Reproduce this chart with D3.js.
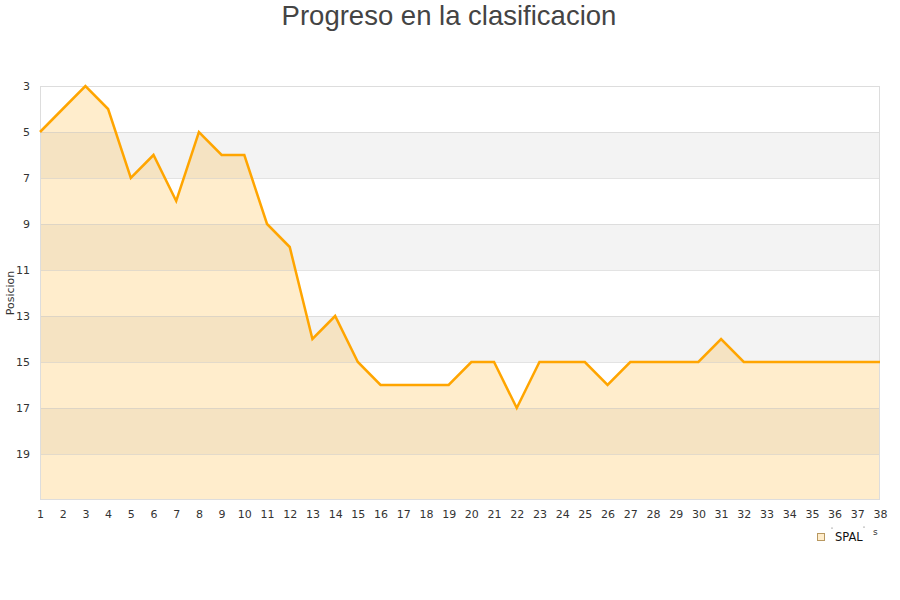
<!DOCTYPE html>
<html><head><meta charset="utf-8">
<script src="https://cdn.jsdelivr.net/npm/d3@7/dist/d3.min.js"></script>
<style>body{margin:0;background:#fff}svg{display:block}</style>
</head><body>
<svg id="c" width="900" height="600"></svg>
<script>
const title = "Progreso en la clasificacion";
const yLabel = "Posicion";
const seriesName = "SPAL";
const jornadas = d3.range(1, 39);
const posiciones = [5,4,3,4,7,6,8,5,6,6,9,10,14,13,15,16,16,16,16,15,15,17,15,15,15,16,15,15,15,15,14,15,15,15,15,15,15,15];
const yTicks = [3,5,7,9,11,13,15,17,19];
const bands = [[5,7],[9,11],[13,15],[17,19]];

const svg = d3.select("#c");
const L = 40, R = 880, T = 86, B = 500;
const x = d3.scaleLinear().domain([1, 38]).range([L, R]);
const y = d3.scaleLinear().domain([3, 21]).range([T, B]);

svg.append("text").attr("x", 449).attr("y", 25).attr("text-anchor", "middle")
  .attr("font-family", "Liberation Sans, Arial, sans-serif").attr("font-size", 27.5)
  .attr("fill", "#444").text(title);

// bands
svg.selectAll("rect.band").data(bands).join("rect")
  .attr("x", L).attr("width", R - L)
  .attr("y", d => y(d[0])).attr("height", d => y(d[1]) - y(d[0]))
  .attr("fill", "#f3f3f3");

// area
const data = jornadas.map((j, i) => ({j, p: posiciones[i]}));
svg.append("path").datum(data)
  .attr("d", d3.area().x(d => x(d.j)).y0(y(21)).y1(d => y(d.p)))
  .attr("fill", "#ffa500").attr("fill-opacity", 0.2);

// grid
svg.selectAll("line.grid").data(yTicks.slice(1)).join("line")
  .attr("x1", L).attr("x2", R).attr("y1", d => y(d) + 0.5).attr("y2", d => y(d) + 0.5)
  .attr("stroke", "#c8c8c8").attr("stroke-opacity", 0.5);

// border
svg.append("rect").attr("x", L + 0.5).attr("y", T + 0.5).attr("width", R - L - 1).attr("height", B - T - 1)
  .attr("fill", "none").attr("stroke", "#dddddd");

// line
svg.append("path").datum(data)
  .attr("d", d3.line().x(d => x(d.j)).y(d => y(d.p)))
  .attr("fill", "none").attr("stroke", "#ffa500").attr("stroke-width", 2.5)
  .attr("stroke-linejoin", "miter");

// y axis labels
const yAxis = d3.axisLeft(y).tickValues(yTicks).tickSize(0).tickPadding(10);
const gy = svg.append("g").attr("transform", `translate(${L},0)`).call(yAxis);
gy.select(".domain").remove();
gy.selectAll("text").attr("font-family", "DejaVu Sans, sans-serif").attr("font-size", 11).attr("fill", "#333");

// x axis labels
const xAxis = d3.axisBottom(x).tickValues(jornadas).tickSize(0).tickPadding(10).tickFormat(d3.format("d"));
const gx = svg.append("g").attr("transform", `translate(0,${B})`).call(xAxis);
gx.select(".domain").remove();
gx.selectAll("text").attr("font-family", "DejaVu Sans, sans-serif").attr("font-size", 11).attr("fill", "#333");

// y label
svg.append("text").attr("transform", "translate(14,293) rotate(-90)").attr("text-anchor", "middle")
  .attr("font-family", "DejaVu Sans, sans-serif").attr("font-size", 11).attr("fill", "#333").text(yLabel);

// legend
const lg = svg.append("g");
lg.append("rect").attr("x", 817.5).attr("y", 533.5).attr("width", 7).attr("height", 7)
  .attr("fill", "#ffedcc").attr("stroke", "#b89860");
lg.append("text").attr("x", 835).attr("y", 541).attr("font-family", "DejaVu Sans, sans-serif")
  .attr("font-size", 11.5).attr("fill", "#111").text(seriesName);
lg.append("text").attr("x", 873).attr("y", 535).attr("font-family", "DejaVu Sans, sans-serif")
  .attr("font-size", 9).attr("fill", "#333").text("s");
lg.append("circle").attr("cx", 832).attr("cy", 528).attr("r", 0.6).attr("fill", "#555");
lg.append("circle").attr("cx", 864).attr("cy", 527).attr("r", 0.6).attr("fill", "#555");
</script>
</body></html>
